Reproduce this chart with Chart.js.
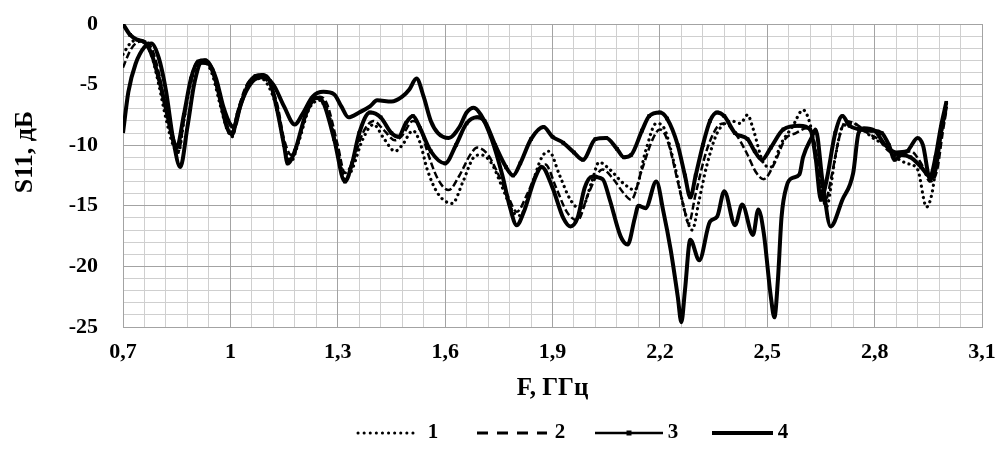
<!DOCTYPE html>
<html>
<head>
<meta charset="utf-8">
<script src="https://cdn.jsdelivr.net/npm/chart.js@4/dist/chart.umd.min.js"></script>
<style>
  html, body { margin: 0; padding: 0; background: #fff; }
  #wrap { width: 1001px; height: 464px; }
</style>
</head>
<body>
<div id="wrap"><canvas id="s11Chart" width="1001" height="464"></canvas></div>
<script>
// axis / legend texts
const xTitle = 'F, ГГц';
const yTitle = 'S11, дБ';
const legendLabels = ['1', '2', '3', '4'];

// x ticks (GHz) and y ticks (dB)
const xTicks = [0.7, 1.0, 1.3, 1.6, 1.9, 2.2, 2.5, 2.8, 3.1];
const yTicks = [0, -5, -10, -15, -20, -25];

// series 1 (dotted)
const f1 = [0.70,0.72,0.74,0.76,0.78,0.80,0.82,0.84,0.855,0.87,
  0.89,0.91,0.93,0.95,0.97,0.99,1.005,1.02,1.05,1.08,
  1.10,1.13,1.15,1.17,1.19,1.22,1.25,1.27,1.30,1.32,
  1.34,1.37,1.40,1.43,1.46,1.48,1.51,1.53,1.55,1.58,
  1.62,1.65,1.68,1.70,1.73,1.76,1.79,1.81,1.84,1.87,
  1.89,1.92,1.95,1.98,2.01,2.03,2.06,2.10,2.13,2.16,
  2.19,2.21,2.24,2.27,2.29,2.31,2.33,2.36,2.40,2.425,
  2.445,2.46,2.49,2.51,2.54,2.57,2.60,2.62,2.645,2.665,
  2.69,2.71,2.74,2.77,2.80,2.83,2.86,2.89,2.92,2.945,
  2.96,2.98,3.00];
const s1 = [-2.5,-1.6,-1.3,-1.5,-2.6,-5.0,-7.8,-10.0,-10.6,-8.0,
  -4.8,-3.3,-3.2,-4.2,-6.5,-8.6,-9.3,-7.5,-5.0,-4.5,
  -4.8,-7.0,-10.0,-11.3,-9.8,-7.0,-6.3,-7.0,-10.5,-12.8,
  -12.0,-9.5,-8.3,-9.5,-10.5,-10.0,-8.8,-9.8,-12.0,-14.0,
  -14.8,-13.0,-11.0,-10.8,-11.5,-13.5,-15.5,-15.8,-13.5,-11.0,
  -10.5,-12.5,-14.5,-15.3,-13.0,-11.4,-12.0,-13.2,-13.7,-10.5,
  -8.2,-8.5,-11.5,-15.5,-17.0,-14.5,-11.8,-9.0,-8.0,-8.2,
  -7.5,-8.6,-11.5,-11.8,-9.8,-8.5,-7.1,-8.3,-12.5,-15.1,
  -11.0,-8.5,-8.2,-8.8,-9.5,-10.0,-11.0,-11.5,-12.0,-15.1,
  -14.0,-10.0,-7.0];

// series 2 (dashed)
const f2 = [0.70,0.72,0.74,0.76,0.78,0.80,0.82,0.84,0.855,0.87,
  0.89,0.91,0.93,0.95,0.97,0.99,1.005,1.02,1.05,1.08,
  1.10,1.13,1.15,1.17,1.19,1.22,1.25,1.27,1.30,1.32,
  1.34,1.37,1.40,1.43,1.46,1.48,1.51,1.53,1.55,1.58,
  1.61,1.64,1.67,1.69,1.72,1.75,1.78,1.80,1.83,1.86,
  1.88,1.91,1.94,1.97,2.00,2.04,2.07,2.10,2.12,2.15,
  2.18,2.20,2.22,2.25,2.27,2.28,2.30,2.33,2.36,2.38,
  2.41,2.44,2.47,2.49,2.52,2.55,2.58,2.61,2.63,2.65,
  2.66,2.68,2.70,2.72,2.75,2.78,2.81,2.84,2.87,2.90,
  2.93,2.955,2.975,2.99,3.00];
const s2 = [-3.6,-2.2,-1.5,-1.4,-2.0,-4.0,-7.0,-9.8,-10.5,-8.0,
  -4.5,-3.1,-3.1,-4.0,-6.2,-8.4,-8.9,-7.2,-4.8,-4.4,
  -4.6,-6.5,-9.5,-10.8,-9.5,-6.8,-6.0,-6.6,-10.0,-12.3,
  -11.5,-9.0,-8.0,-8.8,-9.6,-9.2,-8.0,-8.5,-10.5,-12.8,
  -13.7,-12.5,-10.8,-10.2,-10.8,-12.5,-14.5,-15.5,-14.0,-12.0,
  -11.6,-13.5,-15.5,-16.2,-14.0,-12.0,-12.8,-14.0,-14.5,-12.0,
  -9.5,-8.7,-9.5,-13.0,-15.5,-16.5,-14.0,-10.5,-8.5,-8.2,
  -9.0,-10.5,-12.3,-12.8,-11.5,-9.5,-9.0,-8.6,-9.5,-13.0,
  -14.8,-12.5,-9.5,-8.0,-8.3,-9.0,-9.5,-10.5,-10.8,-10.5,
  -11.5,-13.0,-12.0,-9.0,-7.2];

// series 3 (line with markers)
const f3 = [0.70,0.72,0.74,0.76,0.78,0.80,0.82,0.84,0.85,0.87,
  0.89,0.91,0.93,0.95,0.97,0.99,1.005,1.02,1.05,1.07,
  1.09,1.11,1.13,1.15,1.16,1.18,1.21,1.24,1.26,1.29,
  1.32,1.34,1.36,1.39,1.42,1.45,1.47,1.49,1.51,1.53,
  1.56,1.60,1.63,1.66,1.69,1.71,1.74,1.77,1.79,1.81,
  1.84,1.875,1.90,1.93,1.96,1.985,2.02,2.05,2.08,2.10,
  2.12,2.15,2.17,2.20,2.22,2.25,2.27,2.285,2.30,2.32,
  2.34,2.36,2.38,2.41,2.445,2.465,2.485,2.51,2.545,2.59,
  2.62,2.635,2.65,2.665,2.69,2.71,2.73,2.76,2.79,2.82,
  2.84,2.856,2.875,2.90,2.93,2.955,2.97,2.985,3.00];
const s3 = [0,-0.9,-1.3,-1.5,-2.5,-4.5,-7.0,-9.5,-10.2,-7.5,
  -4.5,-3.1,-3.0,-3.8,-6.0,-8.5,-9.1,-7.5,-5.0,-4.3,
  -4.2,-4.7,-7.0,-10.0,-11.5,-10.5,-7.5,-6.1,-6.5,-9.5,
  -13.0,-11.5,-9.0,-7.3,-7.7,-9.0,-9.3,-8.2,-7.6,-8.6,
  -10.5,-11.5,-10.0,-8.2,-7.7,-8.0,-10.0,-11.8,-12.5,-11.5,
  -9.5,-8.5,-9.3,-9.8,-10.6,-11.2,-9.5,-9.4,-10.3,-11.0,
  -10.8,-8.8,-7.6,-7.3,-7.8,-10.0,-12.5,-14.3,-12.5,-10.0,
  -8.0,-7.3,-7.6,-9.0,-9.5,-10.5,-11.2,-10.2,-8.7,-8.4,
  -8.7,-11.0,-14.5,-13.0,-9.0,-7.6,-8.4,-8.7,-8.8,-9.0,
  -10.0,-11.2,-10.8,-11.0,-11.8,-12.6,-11.0,-8.5,-6.5];

// series 4 (thick solid)
const f4 = [0.70,0.715,0.735,0.76,0.78,0.80,0.82,0.84,0.86,0.88,
  0.90,0.92,0.94,0.96,0.98,1.00,1.01,1.03,1.06,1.09,
  1.12,1.15,1.18,1.20,1.23,1.26,1.29,1.31,1.33,1.36,
  1.39,1.41,1.45,1.48,1.50,1.52,1.54,1.56,1.58,1.61,
  1.64,1.66,1.68,1.70,1.73,1.76,1.78,1.80,1.82,1.85,
  1.87,1.90,1.93,1.95,1.97,1.99,2.01,2.04,2.06,2.09,
  2.11,2.13,2.14,2.16,2.19,2.21,2.23,2.25,2.26,2.27,
  2.285,2.31,2.34,2.36,2.38,2.41,2.43,2.46,2.475,2.49,
  2.51,2.52,2.53,2.54,2.555,2.57,2.59,2.60,2.625,2.635,
  2.655,2.677,2.71,2.74,2.755,2.77,2.80,2.83,2.86,2.89,
  2.92,2.935,2.955,2.97,2.985,3.00];
const s4 = [-9.0,-5.6,-3.3,-1.9,-1.6,-2.8,-5.5,-9.5,-11.8,-8.5,
  -4.8,-3.2,-3.3,-4.5,-6.8,-8.3,-8.5,-6.5,-4.8,-4.4,
  -5.0,-6.8,-8.3,-7.5,-6.0,-5.6,-5.8,-6.8,-7.7,-7.3,
  -6.8,-6.3,-6.4,-6.0,-5.4,-4.5,-6.0,-8.0,-9.0,-9.4,
  -8.5,-7.3,-6.9,-7.5,-9.5,-12.5,-15.0,-16.6,-15.5,-12.8,
  -11.8,-13.5,-16.0,-16.7,-16.0,-13.5,-12.6,-12.8,-14.5,-17.5,
  -18.2,-16.0,-15.0,-15.2,-13.0,-15.5,-18.6,-22.5,-24.6,-22.0,
  -17.8,-19.5,-16.3,-15.9,-13.8,-16.6,-14.9,-17.4,-15.3,-17.2,
  -22.5,-24.2,-21.0,-15.9,-13.3,-12.7,-12.4,-11.0,-9.3,-8.7,
  -13.1,-16.7,-14.5,-12.3,-9.0,-8.6,-8.8,-10.0,-10.6,-10.5,
  -9.4,-10.0,-12.8,-12.0,-9.0,-6.8];

const toPoints = (xs, ys) => xs.map((x, i) => ({ x: x, y: ys[i] }));
const fmt = v => String(Number(v.toFixed(2))).replace('.', ',');

const SERIF = '"Liberation Serif", "Times New Roman", serif';
const MAJOR = '#a3a3a3';
const MINOR = '#cfcfcf';
const NONE = 'rgba(0,0,0,0)';

// line samples of the legend under the chart
const legendItems = [
  { x0: 358, x1: 418, tx: 433, dash: [0.1, 6], width: 3, cap: 'round' },
  { x0: 477, x1: 547, tx: 560, dash: [11, 9], width: 3, cap: 'butt' },
  { x0: 595, x1: 663, tx: 673, dash: [], width: 2.5, cap: 'butt', marker: true },
  { x0: 712, x1: 773, tx: 783, dash: [], width: 4, cap: 'butt' }
];

const extraText = {
  id: 'extraText',
  afterDraw(chart) {
    const ctx = chart.ctx;
    // y axis title
    ctx.save();
    ctx.translate(25, 152);
    ctx.rotate(-Math.PI / 2);
    ctx.font = 'bold 26px ' + SERIF;
    ctx.fillStyle = '#000';
    ctx.textAlign = 'center';
    ctx.textBaseline = 'middle';
    ctx.fillText(yTitle, 0, 0);
    ctx.restore();

    // legend
    ctx.save();
    const ly = 433;
    legendItems.forEach((it, i) => {
      ctx.beginPath();
      ctx.setLineDash(it.dash);
      ctx.lineCap = it.cap;
      ctx.lineWidth = it.width;
      ctx.strokeStyle = '#000';
      ctx.moveTo(it.x0, ly);
      ctx.lineTo(it.x1, ly);
      ctx.stroke();
      if (it.marker) {
        ctx.setLineDash([]);
        ctx.fillStyle = '#000';
        ctx.fillRect((it.x0 + it.x1) / 2 - 2.5, ly - 2.5, 5, 5);
      }
      ctx.setLineDash([]);
      ctx.font = 'bold 21px ' + SERIF;
      ctx.fillStyle = '#000';
      ctx.textAlign = 'center';
      ctx.textBaseline = 'middle';
      ctx.fillText(legendLabels[i], it.tx, ly);
    });
    ctx.restore();
  }
};

const minorColor = ctx => (ctx.index % 5 === 0 ? NONE : MINOR);

new Chart(document.getElementById('s11Chart'), {
  type: 'line',
  data: {
    datasets: [
      {
        label: legendLabels[0],
        data: toPoints(f1, s1),
        borderColor: '#000',
        borderWidth: 3.2,
        borderDash: [0.1, 5.5],
        borderCapStyle: 'round',
        pointRadius: 0,
        cubicInterpolationMode: 'monotone',
        order: 2
      },
      {
        label: legendLabels[1],
        data: toPoints(f2, s2),
        borderColor: '#000',
        borderWidth: 2.5,
        borderDash: [7, 3],
        pointRadius: 0,
        cubicInterpolationMode: 'monotone',
        order: 3
      },
      {
        label: legendLabels[2],
        data: toPoints(f3, s3),
        borderColor: '#000',
        borderWidth: 4,
        pointStyle: 'rect',
        pointRadius: 2.6,
        pointBackgroundColor: '#000',
        pointBorderWidth: 0,
        cubicInterpolationMode: 'monotone',
        order: 1
      },
      {
        label: legendLabels[3],
        data: toPoints(f4, s4),
        borderColor: '#000',
        borderWidth: 4,
        pointRadius: 0,
        cubicInterpolationMode: 'monotone',
        order: 0
      }
    ]
  },
  options: {
    responsive: false,
    animation: false,
    layout: { padding: { left: 0, right: 19, top: 24, bottom: 60 } },
    plugins: {
      legend: { display: false },
      tooltip: { enabled: false }
    },
    scales: {
      x2: {
        type: 'linear',
        position: 'bottom',
        min: xTicks[0],
        max: xTicks[xTicks.length - 1],
        ticks: { display: false, stepSize: 0.06 },
        grid: { color: minorColor, drawTicks: false },
        border: { display: false },
        afterFit: s => { s.height = 0; }
      },
      y2: {
        type: 'linear',
        position: 'left',
        min: yTicks[yTicks.length - 1],
        max: yTicks[0],
        ticks: { display: false, stepSize: 1 },
        grid: { color: minorColor, drawTicks: false },
        border: { display: false },
        afterFit: s => { s.width = 0; }
      },
      x: {
        type: 'linear',
        position: 'bottom',
        min: xTicks[0],
        max: xTicks[xTicks.length - 1],
        ticks: {
          stepSize: 0.3,
          padding: 0,
          color: '#000',
          font: { family: SERIF, size: 22, weight: 'bold' },
          maxRotation: 0,
          autoSkip: false,
          callback: v => fmt(v)
        },
        grid: { color: MAJOR, drawTicks: true, tickLength: 12, tickColor: NONE },
        border: { color: MAJOR },
        title: {
          display: true,
          text: xTitle,
          color: '#000',
          font: { family: SERIF, size: 25, weight: 'bold' },
          padding: { top: 0, bottom: 0 }
        },
        afterFit: s => { s.height = 77; }
      },
      y: {
        type: 'linear',
        position: 'left',
        min: yTicks[yTicks.length - 1],
        max: yTicks[0],
        ticks: {
          stepSize: 5,
          padding: 0,
          color: '#000',
          font: { family: SERIF, size: 22, weight: 'bold' }
        },
        grid: { color: MAJOR, drawTicks: true, tickLength: 25, tickColor: NONE },
        border: { color: MAJOR },
        afterFit: s => { s.width = 123; }
      }
    }
  },
  plugins: [extraText]
});
</script>
</body>
</html>
